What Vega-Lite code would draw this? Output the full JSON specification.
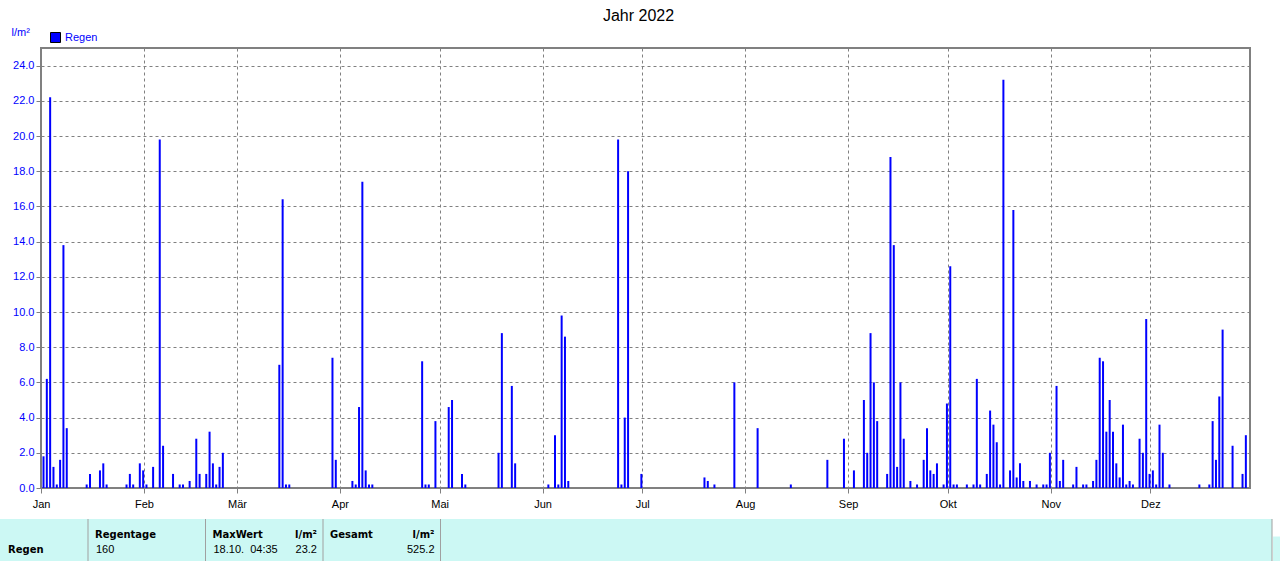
{
  "$schema": "https://vega.github.io/schema/vega-lite/v6.json",
  "width": 1209,
  "height": 440,
  "autosize": {"type": "none"},
  "padding": {"left": 41, "top": 48, "right": 30, "bottom": 73},
  "background": "white",
  "title": {"text": "Jahr 2022", "fontSize": 16, "font": "Liberation Sans", "fontWeight": "normal", "color": "black", "anchor": "middle", "dx": -7, "offset": 2},
  "config": {"view": {"stroke": "#808080", "strokeWidth": 2}, "font": "Liberation Sans"},
  "layer": [
    {
      "data": {"values": [
        {"date": "2022-01-01", "regen": 1.8}, {"date": "2022-01-02", "regen": 6.2}, {"date": "2022-01-03", "regen": 22.2}, {"date": "2022-01-04", "regen": 1.2},
        {"date": "2022-01-05", "regen": 0.2}, {"date": "2022-01-06", "regen": 1.6}, {"date": "2022-01-07", "regen": 13.8}, {"date": "2022-01-08", "regen": 3.4},
        {"date": "2022-01-14", "regen": 0.2}, {"date": "2022-01-15", "regen": 0.8}, {"date": "2022-01-18", "regen": 1.0}, {"date": "2022-01-19", "regen": 1.4},
        {"date": "2022-01-20", "regen": 0.2}, {"date": "2022-01-26", "regen": 0.2}, {"date": "2022-01-27", "regen": 0.8}, {"date": "2022-01-28", "regen": 0.2},
        {"date": "2022-01-30", "regen": 1.4}, {"date": "2022-01-31", "regen": 1.0}, {"date": "2022-02-01", "regen": 0.2}, {"date": "2022-02-03", "regen": 1.2},
        {"date": "2022-02-05", "regen": 19.8}, {"date": "2022-02-06", "regen": 2.4}, {"date": "2022-02-09", "regen": 0.8}, {"date": "2022-02-11", "regen": 0.2},
        {"date": "2022-02-12", "regen": 0.2}, {"date": "2022-02-14", "regen": 0.4}, {"date": "2022-02-16", "regen": 2.8}, {"date": "2022-02-17", "regen": 0.8},
        {"date": "2022-02-19", "regen": 0.8}, {"date": "2022-02-20", "regen": 3.2}, {"date": "2022-02-21", "regen": 1.4}, {"date": "2022-02-22", "regen": 0.2},
        {"date": "2022-02-23", "regen": 1.2}, {"date": "2022-02-24", "regen": 2.0},
        {"date": "2022-03-13", "regen": 7.0}, {"date": "2022-03-14", "regen": 16.4}, {"date": "2022-03-15", "regen": 0.2}, {"date": "2022-03-16", "regen": 0.2},
        {"date": "2022-03-29", "regen": 7.4}, {"date": "2022-03-30", "regen": 1.6}, {"date": "2022-04-04", "regen": 0.4}, {"date": "2022-04-05", "regen": 0.2},
        {"date": "2022-04-06", "regen": 4.6}, {"date": "2022-04-07", "regen": 17.4}, {"date": "2022-04-08", "regen": 1.0}, {"date": "2022-04-09", "regen": 0.2},
        {"date": "2022-04-10", "regen": 0.2}, {"date": "2022-04-25", "regen": 7.2}, {"date": "2022-04-26", "regen": 0.2}, {"date": "2022-04-27", "regen": 0.2},
        {"date": "2022-04-29", "regen": 3.8},
        {"date": "2022-05-03", "regen": 4.6}, {"date": "2022-05-04", "regen": 5.0}, {"date": "2022-05-07", "regen": 0.8}, {"date": "2022-05-08", "regen": 0.2},
        {"date": "2022-05-18", "regen": 2.0}, {"date": "2022-05-19", "regen": 8.8}, {"date": "2022-05-22", "regen": 5.8}, {"date": "2022-05-23", "regen": 1.4},
        {"date": "2022-06-02", "regen": 0.2}, {"date": "2022-06-04", "regen": 3.0}, {"date": "2022-06-05", "regen": 0.2}, {"date": "2022-06-06", "regen": 9.8},
        {"date": "2022-06-07", "regen": 8.6}, {"date": "2022-06-08", "regen": 0.4}, {"date": "2022-06-23", "regen": 19.8}, {"date": "2022-06-24", "regen": 0.2},
        {"date": "2022-06-25", "regen": 4.0}, {"date": "2022-06-26", "regen": 18.0}, {"date": "2022-06-30", "regen": 0.8},
        {"date": "2022-07-19", "regen": 0.6}, {"date": "2022-07-20", "regen": 0.4}, {"date": "2022-07-22", "regen": 0.2}, {"date": "2022-07-28", "regen": 6.0},
        {"date": "2022-08-04", "regen": 3.4}, {"date": "2022-08-14", "regen": 0.2}, {"date": "2022-08-25", "regen": 1.6}, {"date": "2022-08-30", "regen": 2.8},
        {"date": "2022-09-02", "regen": 1.0},
        {"date": "2022-09-05", "regen": 5.0}, {"date": "2022-09-06", "regen": 2.0}, {"date": "2022-09-07", "regen": 8.8}, {"date": "2022-09-08", "regen": 6.0},
        {"date": "2022-09-09", "regen": 3.8}, {"date": "2022-09-12", "regen": 0.8}, {"date": "2022-09-13", "regen": 18.8}, {"date": "2022-09-14", "regen": 13.8},
        {"date": "2022-09-15", "regen": 1.2}, {"date": "2022-09-16", "regen": 6.0}, {"date": "2022-09-17", "regen": 2.8}, {"date": "2022-09-19", "regen": 0.4},
        {"date": "2022-09-21", "regen": 0.2}, {"date": "2022-09-23", "regen": 1.6}, {"date": "2022-09-24", "regen": 3.4}, {"date": "2022-09-25", "regen": 1.0},
        {"date": "2022-09-26", "regen": 0.8}, {"date": "2022-09-27", "regen": 1.4}, {"date": "2022-09-29", "regen": 0.2}, {"date": "2022-09-30", "regen": 4.8},
        {"date": "2022-10-01", "regen": 12.6}, {"date": "2022-10-02", "regen": 0.2}, {"date": "2022-10-03", "regen": 0.2}, {"date": "2022-10-06", "regen": 0.2},
        {"date": "2022-10-08", "regen": 0.2}, {"date": "2022-10-09", "regen": 6.2}, {"date": "2022-10-10", "regen": 0.2}, {"date": "2022-10-12", "regen": 0.8},
        {"date": "2022-10-13", "regen": 4.4}, {"date": "2022-10-14", "regen": 3.6}, {"date": "2022-10-15", "regen": 2.6}, {"date": "2022-10-16", "regen": 0.2},
        {"date": "2022-10-17", "regen": 23.2}, {"date": "2022-10-19", "regen": 1.0}, {"date": "2022-10-20", "regen": 15.8}, {"date": "2022-10-21", "regen": 0.6},
        {"date": "2022-10-22", "regen": 1.4}, {"date": "2022-10-23", "regen": 0.4}, {"date": "2022-10-25", "regen": 0.4}, {"date": "2022-10-27", "regen": 0.2},
        {"date": "2022-10-29", "regen": 0.2}, {"date": "2022-10-30", "regen": 0.2}, {"date": "2022-10-31", "regen": 2.0}, {"date": "2022-11-02", "regen": 5.8},
        {"date": "2022-11-03", "regen": 0.4}, {"date": "2022-11-04", "regen": 1.6}, {"date": "2022-11-07", "regen": 0.2}, {"date": "2022-11-08", "regen": 1.2},
        {"date": "2022-11-10", "regen": 0.2}, {"date": "2022-11-11", "regen": 0.2}, {"date": "2022-11-13", "regen": 0.4}, {"date": "2022-11-14", "regen": 1.6},
        {"date": "2022-11-15", "regen": 7.4}, {"date": "2022-11-16", "regen": 7.2}, {"date": "2022-11-17", "regen": 3.2}, {"date": "2022-11-18", "regen": 5.0},
        {"date": "2022-11-19", "regen": 3.2}, {"date": "2022-11-20", "regen": 1.4}, {"date": "2022-11-21", "regen": 0.6}, {"date": "2022-11-22", "regen": 3.6},
        {"date": "2022-11-23", "regen": 0.2}, {"date": "2022-11-24", "regen": 0.4}, {"date": "2022-11-25", "regen": 0.2}, {"date": "2022-11-27", "regen": 2.8},
        {"date": "2022-11-28", "regen": 2.0}, {"date": "2022-11-29", "regen": 9.6}, {"date": "2022-11-30", "regen": 0.8}, {"date": "2022-12-01", "regen": 1.0},
        {"date": "2022-12-02", "regen": 0.2}, {"date": "2022-12-03", "regen": 3.6}, {"date": "2022-12-04", "regen": 2.0}, {"date": "2022-12-06", "regen": 0.2},
        {"date": "2022-12-15", "regen": 0.2}, {"date": "2022-12-18", "regen": 0.2}, {"date": "2022-12-19", "regen": 3.8}, {"date": "2022-12-20", "regen": 1.6},
        {"date": "2022-12-21", "regen": 5.2}, {"date": "2022-12-22", "regen": 9.0}, {"date": "2022-12-25", "regen": 2.4}, {"date": "2022-12-28", "regen": 0.8},
        {"date": "2022-12-29", "regen": 3.0}
      ]},
      "mark": {"type": "bar", "width": 2, "xOffset": 2.5},
      "encoding": {
        "x": {
          "field": "date", "type": "temporal",
          "scale": {"type": "utc", "padding": 0, "domain": [{"year": 2022, "month": 1, "date": 1, "utc": true}, {"year": 2022, "month": 12, "date": 31, "utc": true}]},
          "axis": {
            "title": null,
            "values": [
              {"year": 2022, "month": 1, "date": 1, "utc": true}, {"year": 2022, "month": 2, "date": 1, "utc": true},
              {"year": 2022, "month": 3, "date": 1, "utc": true}, {"year": 2022, "month": 4, "date": 1, "utc": true},
              {"year": 2022, "month": 5, "date": 1, "utc": true}, {"year": 2022, "month": 6, "date": 1, "utc": true},
              {"year": 2022, "month": 7, "date": 1, "utc": true}, {"year": 2022, "month": 8, "date": 1, "utc": true},
              {"year": 2022, "month": 9, "date": 1, "utc": true}, {"year": 2022, "month": 10, "date": 1, "utc": true},
              {"year": 2022, "month": 11, "date": 1, "utc": true}, {"year": 2022, "month": 12, "date": 1, "utc": true}
            ],
            "labelExpr": "['Jan','Feb','Mär','Apr','Mai','Jun','Jul','Aug','Sep','Okt','Nov','Dez'][utcmonth(datum.value)]",
            "labelFlush": false, "labelOverlap": false,
            "labelColor": "black", "labelFontSize": 11, "labelFont": "Liberation Sans", "labelPadding": 5,
            "tickSize": 5, "tickColor": "#808080", "domain": false,
            "grid": true, "gridColor": "#808080", "gridDash": [3, 3], "gridWidth": 1, "gridOpacity": 1
          }
        },
        "y": {
          "field": "regen", "type": "quantitative",
          "scale": {"domain": [0, 25], "nice": false},
          "axis": {
            "title": "l/m²", "titleAngle": 0, "titleX": -30, "titleY": -16, "titleAlign": "left", "titleBaseline": "middle",
            "titleColor": "#0000ff", "titleFontSize": 11, "titleFontWeight": "normal", "titleFont": "Liberation Sans",
            "values": [0, 2, 4, 6, 8, 10, 12, 14, 16, 18, 20, 22, 24], "format": ".1f",
            "labelColor": "#0000ff", "labelFontSize": 11, "labelFont": "Liberation Sans", "labelPadding": 2,
            "tickSize": 5, "tickColor": "#808080", "domain": false,
            "grid": true, "gridColor": "#808080", "gridDash": [3, 3], "gridWidth": 1, "gridOpacity": 1
          }
        },
        "color": {
          "datum": "Regen", "type": "nominal",
          "scale": {"range": ["#0000ff"]},
          "legend": {
            "title": null, "orient": "none", "legendX": 9, "legendY": -16, "padding": 0,
            "symbolType": "square", "symbolSize": 100, "symbolStrokeColor": "black", "symbolStrokeWidth": 1, "symbolOpacity": 1,
            "labelColor": "#0000ff", "labelFontSize": 11, "labelFont": "Liberation Sans", "labelOffset": 4
          }
        }
      }
    },
    {
      "layer": [
        {
          "data": {"values": [{"from": "B0", "to": "B11", "top": "top", "bottom": "bottom"}]},
          "mark": {"type": "rect", "color": "#ccf8f4", "x2Offset": 9},
          "encoding": {
            "x": {"field": "from", "type": "nominal", "scale": {"type": "point", "padding": 0, "domain": ["B0","B1","B2","B3","B4","B5","B6","B7","B8","B9","B10","B11"], "range": [-70.5, 1222]}, "axis": null},
            "x2": {"field": "to"},
            "y": {"field": "top", "type": "nominal", "scale": {"type": "point", "padding": 0, "domain": ["top","head","val","bottom"], "range": [471, 517.5]}, "axis": null},
            "y2": {"field": "bottom"}
          }
        },
        {
          "data": {"values": [{"from": "B11", "to": "B11", "top": "head", "bottom": "bottom"}]},
          "mark": {"type": "rect", "color": "#ccf8f4", "xOffset": 10, "x2Offset": 40, "yOffset": 2},
          "encoding": {
            "x": {"field": "from", "type": "nominal", "axis": null},
            "x2": {"field": "to"},
            "y": {"field": "top", "type": "nominal", "axis": null},
            "y2": {"field": "bottom"}
          }
        },
        {
          "data": {"values": [{"col": "B1", "top": "top", "bottom": "bottom"}, {"col": "B2", "top": "top", "bottom": "bottom"}, {"col": "B3", "top": "top", "bottom": "bottom"}, {"col": "B4", "top": "top", "bottom": "bottom"}]},
          "mark": {"type": "rule", "color": "#a0a0a0", "strokeWidth": 1},
          "encoding": {
            "x": {"field": "col", "type": "nominal", "axis": null},
            "y": {"field": "top", "type": "nominal", "axis": null},
            "y2": {"field": "bottom"}
          }
        },
        {
          "data": {"values": [{"col": "B11", "top": "top", "bottom": "bottom"}]},
          "mark": {"type": "rule", "color": "#a0a0a0", "strokeWidth": 1, "xOffset": 9},
          "encoding": {
            "x": {"field": "col", "type": "nominal", "axis": null},
            "y": {"field": "top", "type": "nominal", "axis": null},
            "y2": {"field": "bottom"}
          }
        },
        {
          "data": {"values": [{"col": "B0", "row": "val", "text": "Regen"}]},
          "mark": {"type": "text", "align": "left", "baseline": "middle", "dx": 37.5, "font": "DejaVu Sans", "fontSize": 10, "fontWeight": "bold", "color": "black"},
          "encoding": {
            "x": {"field": "col", "type": "nominal", "axis": null},
            "y": {"field": "row", "type": "nominal", "axis": null},
            "text": {"field": "text"}
          }
        },
        {
          "data": {"values": [{"col": "B1", "row": "head", "text": "Regentage"}, {"col": "B2", "row": "head", "text": "MaxWert"}, {"col": "B3", "row": "head", "text": "Gesamt"}]},
          "mark": {"type": "text", "align": "left", "baseline": "middle", "dx": 7, "font": "DejaVu Sans", "fontSize": 10, "fontWeight": "bold", "color": "black"},
          "encoding": {
            "x": {"field": "col", "type": "nominal", "axis": null},
            "y": {"field": "row", "type": "nominal", "axis": null},
            "text": {"field": "text"}
          }
        },
        {
          "data": {"values": [{"col": "B3", "row": "head", "text": "l/m²"}, {"col": "B4", "row": "head", "text": "l/m²"}]},
          "mark": {"type": "text", "align": "right", "baseline": "middle", "dx": -6, "font": "DejaVu Sans", "fontSize": 10, "fontWeight": "bold", "color": "black"},
          "encoding": {
            "x": {"field": "col", "type": "nominal", "axis": null},
            "y": {"field": "row", "type": "nominal", "axis": null},
            "text": {"field": "text"}
          }
        },
        {
          "data": {"values": [{"col": "B1", "row": "val", "text": "160"}, {"col": "B2", "row": "val", "text": "18.10.\u00a0\u00a004:35"}]},
          "mark": {"type": "text", "align": "left", "baseline": "middle", "dx": 8, "font": "Liberation Sans", "fontSize": 11, "color": "black"},
          "encoding": {
            "x": {"field": "col", "type": "nominal", "axis": null},
            "y": {"field": "row", "type": "nominal", "axis": null},
            "text": {"field": "text"}
          }
        },
        {
          "data": {"values": [{"col": "B3", "row": "val", "text": "23.2"}, {"col": "B4", "row": "val", "text": "525.2"}]},
          "mark": {"type": "text", "align": "right", "baseline": "middle", "dx": -6, "font": "Liberation Sans", "fontSize": 11, "color": "black"},
          "encoding": {
            "x": {"field": "col", "type": "nominal", "axis": null},
            "y": {"field": "row", "type": "nominal", "axis": null},
            "text": {"field": "text"}
          }
        }
      ]
    }
  ],
  "resolve": {"scale": {"x": "independent", "y": "independent"}}
}
